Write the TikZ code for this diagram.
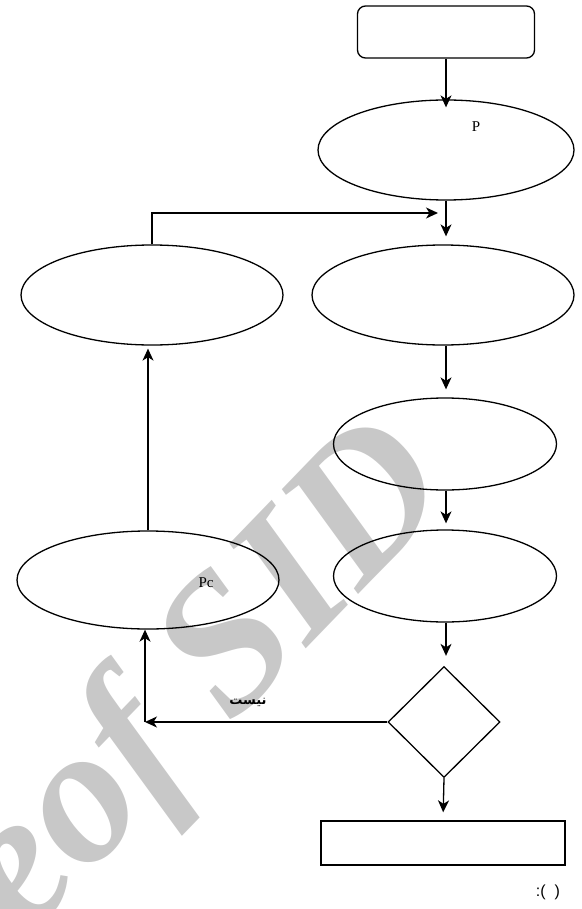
\documentclass[tikz,border=0pt]{standalone}
\usepackage{fontspec}
\setmainfont{Liberation Serif}
\newfontfamily\arabicfont[Script=Arabic]{DejaVu Sans}
\newfontfamily\labelsans{Liberation Sans}
\newfontfamily\wmfont{Liberation Serif}
\TeXXeTstate=1
\usetikzlibrary{shapes.geometric,arrows.meta}
\definecolor{wmgray}{RGB}{200,200,200}
\tikzset{
  line/.style={line width=1.3pt},
  flow/.style={line, -{Stealth[length=12pt,width=11pt,inset=3.5pt]}},
  oval/.style={ellipse, draw, line width=1.3pt, inner sep=0pt},
  txt/.style={inner sep=0pt, font=\fontsize{15}{15}\selectfont},
  watermark/.style={inner sep=0pt, text=wmgray, rotate=46,
    font=\wmfont\bfseries\itshape\fontsize{195}{195}\selectfont}
}
\begin{document}
\begin{tikzpicture}[x=1pt,y=-1pt]
\useasboundingbox (0,0) rectangle (581,909);
\clip (0,0) rectangle (581,909);

% background watermark
\node[watermark, anchor=base west] (wmb) at (85,878) {of SID};
\node[watermark, anchor=base east] (wma) at (wmb.base west) {Archive\ };

% boxes and ovals
\node[draw, line, rounded corners=8pt, minimum width=177pt, minimum height=52pt, inner sep=0pt] (start) at (446,32) {};
\node[oval, minimum width=256pt, minimum height=100pt] (pE) at (446,150) {};
\node[txt] (pLbl) at (476,127) {P};
\node[oval, minimum width=262pt, minimum height=100pt] (e1) at (152,295) {};
\node[oval, minimum width=262pt, minimum height=100pt] (e2) at (443,295) {};
\node[oval, minimum width=223pt, minimum height=92pt] (e3) at (445,444) {};
\node[oval, minimum width=223pt, minimum height=92pt] (e4) at (445,576) {};
\node[oval, minimum width=262pt, minimum height=98pt] (pc) at (148,580) {};
\node[txt] (pcLbl) at (206,583) {Pc};
\node[diamond, draw, line, inner sep=0pt, aspect=1, minimum width=112pt, minimum height=111pt] (dia) at (444,722) {};
\node[draw, line, minimum width=244pt, minimum height=44pt, inner sep=0pt] (endbox) at (443,843) {};

% labels
\node[inner sep=0pt, font=\arabicfont\bfseries\fontsize{13}{13}\selectfont] (noLbl) at (248,702) {\beginR نیست\endR};
\node[inner sep=0pt, font=\labelsans\fontsize{16}{16}\selectfont] (cap) at (548,892) {:(\hspace{9pt})};

% connectors
\coordinate (join) at (438,213);
\coordinate (turn) at (145,722);
\draw[flow] (start.south) -- ([yshift=-8pt]pE.north);
\draw[flow, shorten >=8pt] (pE.south) -- (pE.south |- e2.north);
\draw[flow] (e1.north) |- (join);
\draw[flow, shorten >=8pt] (pE.south |- e2.south) -- (pE.south |- e3.north);
\draw[flow, shorten >=6pt] (pE.south |- e3.south) -- (pE.south |- e4.north);
\draw[flow, shorten >=10pt] (pE.south |- e4.south) -- (pE.south |- dia.north);
\draw[flow, shorten >=8pt] (dia.south) -- (endbox.north);
\draw[flow] (dia.west) -- (turn);
\draw[flow] (turn) -- (turn |- pc.south);
\draw[flow, shorten >=3pt] (pc.north) -- (pc.north |- e1.south);
\end{tikzpicture}
\end{document}
